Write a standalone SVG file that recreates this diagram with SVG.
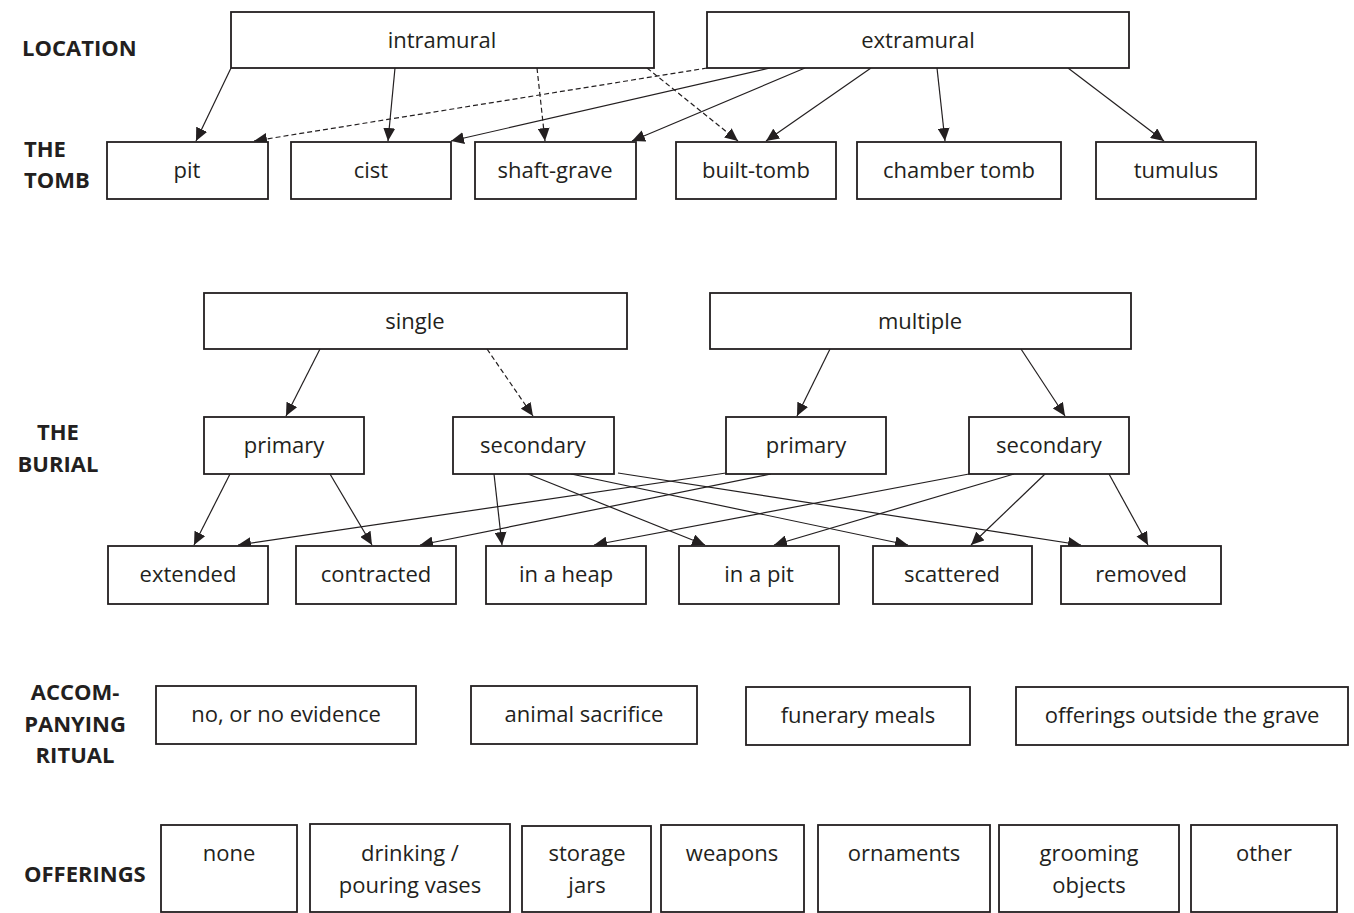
<svg xmlns="http://www.w3.org/2000/svg" width="1354" height="913" viewBox="0 0 1354 913">
<defs>
<style>
.box{fill:#fff;stroke:#231f20;stroke-width:1.8}
.t{font-family:"Open Sans","Noto Sans",sans-serif;font-size:22px;fill:#231f20;text-anchor:middle}
.lbl{font-family:"Open Sans","Noto Sans",sans-serif;font-size:22px;font-weight:bold;fill:#231f20}
.c{fill:none;stroke:#231f20;stroke-width:1.2;marker-end:url(#ah)}
.d{stroke-dasharray:5,3}
</style>
<marker id="ah" markerUnits="userSpaceOnUse" markerWidth="13" markerHeight="12" refX="13" refY="6" orient="auto">
<path d="M0,0 L13,6 L0,12 z" fill="#231f20"/>
</marker>
</defs>
<rect width="1354" height="913" fill="#fff"/>

<g id="labels">
<text class="lbl" x="22" y="56">LOCATION</text>
<text class="lbl" x="24" y="157">THE</text>
<text class="lbl" x="24" y="188">TOMB</text>
<text class="lbl" x="58" y="440" text-anchor="middle">THE</text>
<text class="lbl" x="58" y="472" text-anchor="middle">BURIAL</text>
<text class="lbl" x="75" y="700" text-anchor="middle">ACCOM-</text>
<text class="lbl" x="75" y="732" text-anchor="middle">PANYING</text>
<text class="lbl" x="75" y="763" text-anchor="middle">RITUAL</text>
<text class="lbl" x="24" y="882">OFFERINGS</text>
</g>

<g id="connectors">
<line class="c" x1="231" y1="68" x2="196" y2="141"/>
<line class="c" x1="395" y1="68" x2="388" y2="141"/>
<line class="c d" x1="537" y1="68" x2="545" y2="141"/>
<line class="c d" x1="647" y1="68" x2="738" y2="141"/>
<line class="c d" x1="707" y1="68" x2="254" y2="141"/>
<line class="c" x1="770" y1="68" x2="451" y2="141"/>
<line class="c" x1="805" y1="68" x2="632" y2="141"/>
<line class="c" x1="871" y1="68" x2="766" y2="141"/>
<line class="c" x1="937" y1="68" x2="945" y2="141"/>
<line class="c" x1="1068" y1="68" x2="1164" y2="141"/>

<line class="c" x1="320" y1="349" x2="286" y2="416"/>
<line class="c d" x1="487" y1="349" x2="533" y2="416"/>
<line class="c" x1="830" y1="349" x2="797" y2="416"/>
<line class="c" x1="1021" y1="349" x2="1065" y2="416"/>

<line class="c" x1="230" y1="474" x2="194" y2="545"/>
<line class="c" x1="330" y1="474" x2="372" y2="545"/>
<line class="c" x1="494" y1="474" x2="502" y2="545"/>
<line class="c" x1="528" y1="474" x2="705" y2="545"/>
<line class="c" x1="571" y1="474" x2="908" y2="545"/>
<line class="c" x1="618" y1="473" x2="1081" y2="545"/>
<line class="c" x1="726" y1="473" x2="238" y2="545"/>
<line class="c" x1="771" y1="474" x2="420" y2="545"/>
<line class="c" x1="969" y1="474" x2="594" y2="545"/>
<line class="c" x1="1014" y1="474" x2="774" y2="545"/>
<line class="c" x1="1045" y1="474" x2="971" y2="545"/>
<line class="c" x1="1109" y1="474" x2="1148" y2="545"/>
</g>

<g id="n-intramural"><rect class="box" x="231" y="12" width="423" height="56"/><text class="t" x="442" y="48">intramural</text></g>
<g id="n-extramural"><rect class="box" x="707" y="12" width="422" height="56"/><text class="t" x="918" y="48">extramural</text></g>

<g id="n-pit"><rect class="box" x="107" y="142" width="161" height="57"/><text class="t" x="187" y="178">pit</text></g>
<g id="n-cist"><rect class="box" x="291" y="142" width="160" height="57"/><text class="t" x="371" y="178">cist</text></g>
<g id="n-shaft-grave"><rect class="box" x="475" y="142" width="161" height="57"/><text class="t" x="555" y="178">shaft-grave</text></g>
<g id="n-built-tomb"><rect class="box" x="676" y="142" width="160" height="57"/><text class="t" x="756" y="178">built-tomb</text></g>
<g id="n-chamber-tomb"><rect class="box" x="857" y="142" width="204" height="57"/><text class="t" x="959" y="178">chamber tomb</text></g>
<g id="n-tumulus"><rect class="box" x="1096" y="142" width="160" height="57"/><text class="t" x="1176" y="178">tumulus</text></g>

<g id="n-single"><rect class="box" x="204" y="293" width="423" height="56"/><text class="t" x="415" y="329">single</text></g>
<g id="n-multiple"><rect class="box" x="710" y="293" width="421" height="56"/><text class="t" x="920" y="329">multiple</text></g>

<g id="n-primary-s"><rect class="box" x="204" y="417" width="160" height="57"/><text class="t" x="284" y="453">primary</text></g>
<g id="n-secondary-s"><rect class="box" x="453" y="417" width="161" height="57"/><text class="t" x="533" y="453">secondary</text></g>
<g id="n-primary-m"><rect class="box" x="726" y="417" width="160" height="57"/><text class="t" x="806" y="453">primary</text></g>
<g id="n-secondary-m"><rect class="box" x="969" y="417" width="160" height="57"/><text class="t" x="1049" y="453">secondary</text></g>

<g id="n-extended"><rect class="box" x="108" y="546" width="160" height="58"/><text class="t" x="188" y="582">extended</text></g>
<g id="n-contracted"><rect class="box" x="296" y="546" width="160" height="58"/><text class="t" x="376" y="582">contracted</text></g>
<g id="n-in-a-heap"><rect class="box" x="486" y="546" width="160" height="58"/><text class="t" x="566" y="582">in a heap</text></g>
<g id="n-in-a-pit"><rect class="box" x="679" y="546" width="160" height="58"/><text class="t" x="759" y="582">in a pit</text></g>
<g id="n-scattered"><rect class="box" x="873" y="546" width="159" height="58"/><text class="t" x="952" y="582">scattered</text></g>
<g id="n-removed"><rect class="box" x="1061" y="546" width="160" height="58"/><text class="t" x="1141" y="582">removed</text></g>

<g id="n-no-evidence"><rect class="box" x="156" y="686" width="260" height="58"/><text class="t" x="286" y="722">no, or no evidence</text></g>
<g id="n-animal-sacrifice"><rect class="box" x="471" y="686" width="226" height="58"/><text class="t" x="584" y="722">animal sacrifice</text></g>
<g id="n-funerary-meals"><rect class="box" x="746" y="687" width="224" height="58"/><text class="t" x="858" y="723">funerary meals</text></g>
<g id="n-offerings-outside"><rect class="box" x="1016" y="687" width="332" height="58"/><text class="t" x="1182" y="723">offerings outside the grave</text></g>

<g id="n-none"><rect class="box" x="161" y="825" width="136" height="87"/><text class="t" x="229" y="861">none</text></g>
<g id="n-drinking"><rect class="box" x="310" y="824" width="200" height="88"/><text class="t" x="410" y="861">drinking /</text><text class="t" x="410" y="893">pouring vases</text></g>
<g id="n-storage"><rect class="box" x="522" y="826" width="129" height="86"/><text class="t" x="587" y="861">storage</text><text class="t" x="587" y="893">jars</text></g>
<g id="n-weapons"><rect class="box" x="661" y="825" width="143" height="87"/><text class="t" x="732" y="861">weapons</text></g>
<g id="n-ornaments"><rect class="box" x="818" y="825" width="172" height="87"/><text class="t" x="904" y="861">ornaments</text></g>
<g id="n-grooming"><rect class="box" x="999" y="825" width="180" height="87"/><text class="t" x="1089" y="861">grooming</text><text class="t" x="1089" y="893">objects</text></g>
<g id="n-other"><rect class="box" x="1191" y="825" width="146" height="87"/><text class="t" x="1264" y="861">other</text></g>
</svg>
